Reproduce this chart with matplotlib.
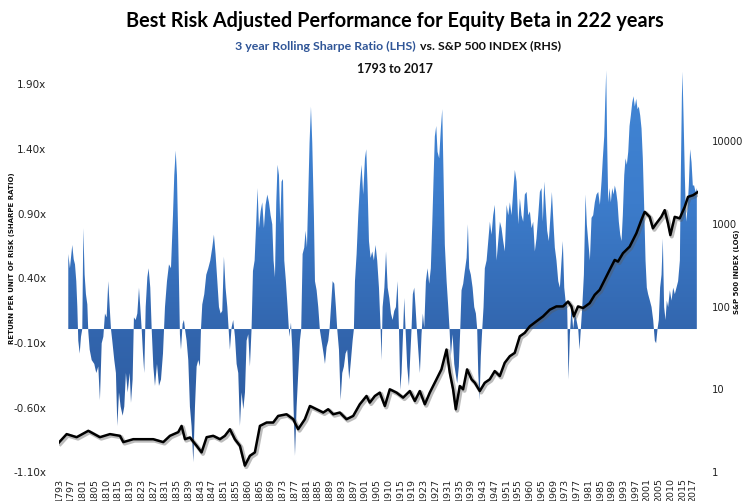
import numpy as np
import matplotlib
matplotlib.use('Agg')
import matplotlib.pyplot as plt
import matplotlib.patheffects as pe
from matplotlib.colors import LinearSegmentedColormap
from matplotlib.path import Path

# x axis is a category axis: one slot per printed year label
year_labels = ['1793', '1797', '1801', '1805', '1810', '1815', '1819', '1823', '1827', '1831',
               '1835', '1839', '1843', '1847', '1851', '1855', '1860', '1865', '1869', '1873',
               '1877', '1881', '1885', '1889', '1893', '1897', '1901', '1905', '1910', '1915',
               '1919', '1923', '1927', '1931', '1935', '1939', '1943', '1947', '1951', '1955',
               '1960', '1965', '1969', '1973', '1977', '1981', '1985', '1989', '1993', '1997',
               '2001', '2005', '2010', '2015', '2017']

# 3 year rolling sharpe ratio (LHS), position in label slots
sharpe_pos = [
    0.79, 0.93, 1.13, 1.25, 1.36, 1.47, 1.56, 1.64, 1.76, 1.87,
    1.98, 2.07, 2.18, 2.29, 2.41, 2.49, 2.61, 2.78, 3.00, 3.17,
    3.34, 3.48, 3.63, 3.77, 3.91, 4.05, 4.19, 4.31, 4.42, 4.53,
    4.70, 4.84, 4.96, 5.10, 5.24, 5.41, 5.55, 5.69, 5.84, 6.01,
    6.12, 6.26, 6.37, 6.52, 6.66, 6.80, 6.91, 7.03, 7.14, 7.25,
    7.37, 7.51, 7.62, 7.76, 7.88, 8.02, 8.16, 8.33, 8.50, 8.67,
    8.84, 9.01, 9.18, 9.35, 9.52, 9.69, 9.80, 9.92, 10.03, 10.14,
    10.28, 10.37, 10.51, 10.62,
    10.71, 10.85, 10.99, 11.13, 11.27, 11.42, 11.56, 11.70, 11.84, 11.98,
    12.07, 12.18, 12.35, 12.52, 12.69, 12.86, 13.03, 13.17, 13.31, 13.46,
    13.60, 13.74, 13.88, 14.02, 14.16, 14.31, 14.42, 14.53, 14.67, 14.81,
    14.96, 15.10, 15.24, 15.38, 15.52, 15.67, 15.81, 15.95, 16.09, 16.23,
    16.37, 16.49, 16.63, 16.77, 16.88, 17.00, 17.14, 17.28, 17.42, 17.56,
    17.71, 17.85, 17.99, 18.13, 18.24, 18.36, 18.47, 18.58, 18.70, 18.81,
    18.92, 19.04, 19.15, 19.29, 19.43, 19.58, 19.72, 19.83, 19.94, 20.06,
    20.20, 20.34, 20.48, 20.59, 20.71, 20.85, 20.96, 21.08, 21.19, 21.30,
    21.42, 21.53, 21.67,
    21.76, 21.90, 22.04, 22.18, 22.32, 22.49, 22.61, 22.75, 22.89, 23.00,
    23.12, 23.26, 23.40, 23.54, 23.65, 23.80, 23.94, 24.08, 24.22, 24.36,
    24.50, 24.67, 24.82, 24.96, 25.07, 25.16, 25.30, 25.44, 25.58, 25.72,
    25.86, 26.01, 26.12, 26.23, 26.35, 26.49, 26.63, 26.77, 26.91, 27.05,
    27.20, 27.34, 27.42, 27.51, 27.66, 27.80, 27.94, 28.08, 28.22, 28.36,
    28.50, 28.64, 28.78, 28.90, 29.01, 29.12, 29.26, 29.35, 29.46, 29.60,
    29.75, 29.86, 29.97, 30.08, 30.20, 30.31, 30.42, 30.54, 30.68, 30.82,
    30.93, 31.05, 31.19, 31.33, 31.47, 31.61, 31.73, 31.84, 31.95, 32.07,
    32.18, 32.32, 32.46, 32.58, 32.69,
    32.80, 32.95, 33.09, 33.20, 33.31, 33.46, 33.60, 33.71, 33.85, 33.99,
    34.11, 34.22, 34.36, 34.50, 34.65, 34.76, 34.87, 35.01, 35.16, 35.30,
    35.44, 35.55, 35.64, 35.75, 35.86, 35.98, 36.09, 36.20, 36.35, 36.49,
    36.63, 36.77, 36.91, 37.05, 37.20, 37.34, 37.48, 37.62, 37.76, 37.90,
    38.05, 38.19, 38.33, 38.47, 38.61, 38.75, 38.90, 39.04, 39.18, 39.32,
    39.46, 39.60, 39.75, 39.89, 40.03, 40.17, 40.31, 40.45, 40.59, 40.74,
    40.88, 41.02, 41.13, 41.25, 41.36, 41.50, 41.64, 41.78, 41.90, 42.04,
    42.15, 42.29, 42.44, 42.58, 42.72, 42.83, 42.95, 43.06, 43.20, 43.31,
    43.43, 43.57, 43.71,
    43.85, 43.99, 44.14, 44.25, 44.36, 44.48, 44.62, 44.76, 44.87, 44.99,
    45.13, 45.27, 45.41, 45.55, 45.69, 45.84, 45.98, 46.12, 46.23, 46.35,
    46.43, 46.52, 46.60, 46.69, 46.80, 46.91, 47.03, 47.14, 47.25, 47.37,
    47.48, 47.59, 47.71, 47.82, 47.93, 48.05, 48.16, 48.27, 48.39, 48.50,
    48.61, 48.73, 48.84, 48.95, 49.07, 49.18, 49.29, 49.41, 49.52, 49.63,
    49.75, 49.86, 49.97, 50.08, 50.23, 50.37, 50.51, 50.65, 50.76, 50.88,
    50.99, 51.10, 51.22, 51.33, 51.44, 51.56, 51.67, 51.78, 51.93, 52.07,
    52.21, 52.35, 52.49, 52.63, 52.78, 52.86, 52.95, 53.00, 53.09, 53.20,
    53.31, 53.43, 53.54, 53.65, 53.77, 53.88, 53.99, 54.11, 54.22,
]
sharpe_val = [
    0.58, 0.47, 0.65, 0.54, 0.50, 0.37, 0.17, -0.09, -0.19, -0.06,
    0.00, 0.78, 0.42, 0.27, 0.19, -0.02, -0.16, -0.24, -0.27, -0.34,
    -0.29, -0.55, -0.11, -0.06, 0.12, 0.09, 0.37, 0.17, 0.00, -0.09,
    -0.24, -0.34, -0.75, -0.49, -0.60, -0.67, -0.60, -0.34, -0.49, -0.34,
    -0.57, -0.39, 0.09, 0.07, 0.12, 0.32, 0.17, 0.00, -0.19, -0.34,
    0.17, 0.40, 0.47, 0.32, 0.00, -0.29, -0.44, -0.27, -0.44, -0.39,
    -0.19, 0.17, 0.37, 0.50, 0.47, 0.88, 1.19, 1.38, 1.19, 0.68,
    -0.04, -0.16, 0.04, 0.07,
    0.00, -0.09, -0.24, -0.60, -0.75, -1.03, -0.60, -0.29, -0.24, -0.29,
    0.00, 0.19, 0.27, 0.42, 0.47, 0.53, 0.63, 0.73, 0.58, 0.37,
    0.17, 0.12, 0.14, 0.56, 0.32, 0.17, 0.00, -0.16, 0.01, 0.07,
    -0.06, -0.27, -0.34, -0.75, -0.49, -0.62, -0.49, -0.09, -0.04, -0.29,
    0.00, 0.45, 0.53, 0.83, 1.09, 0.78, 0.91, 0.98, 0.78, 0.96,
    1.04, 0.98, 0.88, 0.81, 0.53, 0.40, 0.98, 1.27, 1.19, 0.81,
    1.14, 1.16, 0.53, 0.37, 0.17, -0.06, 0.05, -0.16, -0.60, -0.98,
    -0.60, -0.34, -0.09, 0.00, 0.58, 0.63, 0.76, 0.63, 1.04, 1.44,
    1.72, 1.44, 0.88,
    0.37, 0.30, 0.17, -0.01, -0.09, -0.19, -0.27, -0.14, -0.09, 0.00,
    0.17, 0.37, 0.35, 0.17, 0.00, -0.16, -0.55, -0.34, -0.29, -0.19,
    -0.16, -0.39, -0.24, -0.09, 0.00, 0.37, 0.58, 0.88, 1.11, 1.27,
    1.04, 1.32, 1.39, 1.11, 0.68, 0.55, 0.60, 0.53, 0.65, 0.53,
    0.32, 0.00, -0.24, 0.17, 0.32, 0.60, 0.32, 0.24, 0.12, 0.07,
    0.14, 0.17, 0.37, 0.00, -0.47, -0.34, 0.00, 0.24, 0.00, -0.29,
    -0.44, -0.21, 0.00, 0.27, 0.32, 0.17, 0.00, -0.16, -0.34, -0.04,
    0.12, 0.01, 0.37, 0.47, 0.35, 0.47, 0.81, 1.16, 1.49, 1.57,
    1.37, 1.32, 1.55, 1.70, 1.19,
    0.65, 0.37, 0.17, 0.00, -0.21, -0.04, -0.27, -0.34, -0.42, -0.29,
    0.00, 0.30, 0.35, 0.45, 0.55, 0.81, 0.47, 0.42, 0.32, 0.17,
    0.12, 0.00, -0.34, -0.55, -0.21, 0.00, 0.17, 0.47, 0.53, 0.68,
    0.83, 0.73, 0.88, 0.96, 0.53, 0.68, 0.83, 0.78, 0.68, 0.60,
    0.96, 0.88, 0.98, 0.88, 1.06, 1.23, 1.14, 0.81, 1.01, 0.88,
    0.83, 1.04, 1.06, 0.88, 0.91, 0.78, 0.83, 0.60, 0.70, 0.88,
    1.06, 1.09, 0.83, 1.14, 0.98, 0.76, 0.68, 0.88, 1.06, 0.81,
    0.63, 0.53, 0.37, 0.32, 0.53, 0.68, 0.32, 0.22, 0.17, -0.39,
    -0.04, 0.17, 0.00,
    0.12, 0.07, 0.00, -0.16, 0.00, 0.17, 0.42, 1.04, 0.81, 0.68,
    0.53, 0.86, 0.88, 0.98, 1.04, 1.06, 0.96, 1.14, 1.32, 1.49,
    1.75, 2.00, 1.44, 0.98, 1.09, 0.98, 1.09, 1.04, 1.11, 1.06,
    0.98, 0.83, 0.73, 0.68, 0.88, 1.19, 1.32, 1.27, 1.37, 1.57,
    1.65, 1.75, 1.80, 1.72, 1.78, 1.70, 1.72, 1.65, 1.55, 1.32,
    0.93, 0.53, 0.32, 0.27, 0.22, 0.17, 0.07, -0.09, -0.11, 0.00,
    0.07, 0.32, 0.42, 0.70, 0.17, 0.07, 0.22, 0.17, 0.30, 0.22,
    0.32, 0.27, 0.32, 0.37, 0.53, 1.19, 1.80, 1.99, 1.65, 1.19,
    0.83, 0.93, 1.11, 1.39, 1.29, 1.11, 1.11, 1.06, 1.09,
]

# S&P 500 index (RHS, log)
spx_pos = [0.00, 0.65, 1.50, 2.49, 3.48, 4.33, 5.18, 5.47, 6.31, 7.16,
           8.01, 8.86, 9.43, 10.14, 10.42, 10.71, 11.13, 11.70, 12.12, 12.55,
           13.11, 13.68, 14.10, 14.53, 14.95, 15.38, 15.80, 16.23, 16.65, 17.08,
           17.65, 18.21, 18.63, 19.34, 19.91, 20.33, 20.90, 21.33, 21.89, 22.46,
           22.88, 23.31, 23.87, 24.44, 25.01, 25.57, 26.14, 26.42, 26.85, 27.27,
           27.70, 28.12, 28.69, 29.25, 29.82, 30.25, 30.67, 31.10, 31.52, 32.09,
           32.51, 32.94, 33.22, 33.50, 33.73, 34.07, 34.35, 34.69, 35.07, 35.35,
           35.77, 36.19, 36.62, 37.04, 37.47, 37.89, 38.32, 38.74, 39.17, 39.59,
           40.02, 40.58, 41.15, 41.72, 42.28, 42.85, 43.27, 43.56, 43.76, 44.12,
           44.55, 45.11, 45.54, 45.96, 46.39, 46.81, 47.24, 47.52, 47.94, 48.51,
           49.08, 49.50, 49.79, 50.21, 50.49, 50.78, 51.20, 51.49, 51.77, 51.97,
           52.34, 52.76, 53.19, 53.47, 53.90, 54.32]
spx_val = [2.23, 2.81, 2.58, 3.08, 2.58, 2.81, 2.68, 2.25, 2.44, 2.44,
           2.44, 2.25, 2.68, 2.97, 3.53, 2.44, 2.56, 2.03, 1.69, 2.58,
           2.68, 2.44, 2.68, 3.22, 2.44, 2.03, 1.17, 1.54, 1.69, 3.53,
           3.88, 3.88, 4.66, 4.88, 4.25, 3.22, 4.25, 6.14, 5.61, 5.12,
           5.61, 4.88, 5.12, 4.25, 4.66, 6.44, 8.11, 6.75, 8.11, 8.91,
           6.14, 9.76, 8.91, 7.75, 9.30, 7.06, 9.30, 6.44, 8.91, 12.9,
           17.0, 29.5, 15.5, 9.76, 5.61, 10.7, 9.76, 17.0, 12.9, 11.7,
           9.30, 11.7, 12.9, 16.2, 14.1, 20.4, 24.5, 26.9, 42.6, 46.9,
           56.2, 64.6, 74.2, 89.3, 97.8, 97.8, 112, 97.8, 74.2, 97.8,
           93.5, 107, 135, 155, 205, 270, 356, 340, 429, 515,
           746, 1077, 1356, 1180, 857, 984, 1180, 1421, 984, 711,
           1180, 1130, 1556, 2055, 2153, 2360]

x_end = 54.32
sharpe_ticks = np.arange(-1.1, 1.95, 0.5)
spx_ticks = [1, 10, 100, 1000, 10000]

fig = plt.figure(figsize=(7.42, 5.02), dpi=100)
ax = fig.add_axes([0.0795, 0.0592, 0.8612, 0.7986])

# area with vertical gradient, clipped to the fill polygon
fill = ax.fill_between(sharpe_pos, 0, sharpe_val, facecolor='none', edgecolor='none')
clip = Path.make_compound_path(*fill.get_paths())
cmap = LinearSegmentedColormap.from_list('sharpe', ['#2B589B', '#3265AD', '#3C7CCB', '#4186D6'])
grad = np.linspace(0, 1, 256).reshape(-1, 1)
im = ax.imshow(grad, cmap=cmap, aspect='auto', origin='lower',
               extent=[0, x_end, -1.1, 2.0], interpolation='bilinear', zorder=1)
im.set_clip_path(clip, transform=ax.transData)

ax.set_xlim(0, x_end)
ax.set_ylim(-1.1, 2.0)
ax.set_yticks(sharpe_ticks)
ax.set_yticklabels(['%.2fx' % t for t in sharpe_ticks])
tick_pos = list(range(len(year_labels) - 1)) + [53.85]
ax.set_xticks(tick_pos)
ax.set_xticklabels(year_labels, rotation=90)
ax.tick_params(axis='y', length=0, pad=9, labelsize=7.5, labelcolor='#222222')
ax.tick_params(axis='x', length=0, pad=4, labelsize=6.8, labelcolor='#222222')
for s in ax.spines.values():
    s.set_visible(False)

# S&P 500 line on log axis
ax2 = ax.twinx()
ax2.set_yscale('log')
ax2.plot(spx_pos, spx_val, color='black', lw=1.8, solid_joinstyle='round',
         path_effects=[pe.SimpleLineShadow(offset=(1, -1), shadow_color='0.35', alpha=0.4, linewidth=3.0),
                       pe.Normal()])
ax2.set_ylim(1, 10 ** 4.84)
ax2.set_xlim(0, x_end)
ax2.set_yticks(spx_ticks)
ax2.set_yticklabels([str(t) for t in spx_ticks])
ax2.minorticks_off()
ax2.tick_params(axis='y', length=0, pad=10, labelsize=7.2, labelcolor='#222222')
for s in ax2.spines.values():
    s.set_visible(False)

# titles
fig.text(0.532, 1 - 21 / 502, 'Best Risk Adjusted Performance for Equity Beta in 222 years',
         ha='center', va='center', fontsize=14.3, fontweight='bold', family='Lato')
fig.text(416 / 742, 1 - 46 / 502, '3 year Rolling Sharpe Ratio (LHS)', ha='right', va='center',
         fontsize=8.9, fontweight='bold', color='#2F5597', family='Lato')
fig.text(420 / 742, 1 - 46 / 502, 'vs. S&P 500 INDEX (RHS)', ha='left', va='center',
         fontsize=8.9, fontweight='bold', color='#111111', family='Lato')
fig.text(0.532, 1 - 69 / 502, '1793 to 2017', ha='center', va='center',
         fontsize=9, fontweight='bold', color='#111111', family='Lato')

# axis titles
fig.text(12 / 742, 1 - 258 / 502, 'RETURN PER UNIT OF RISK (SHARPE RATIO)', rotation=90,
         ha='center', va='center', fontsize=5, fontweight='bold', color='#111111')
fig.text(737 / 742, 1 - 272 / 502, 'S&P 500 INDEX (LOG)', rotation=90,
         ha='center', va='center', fontsize=5, fontweight='bold', color='#111111')

fig.savefig('out.png', dpi=100)
